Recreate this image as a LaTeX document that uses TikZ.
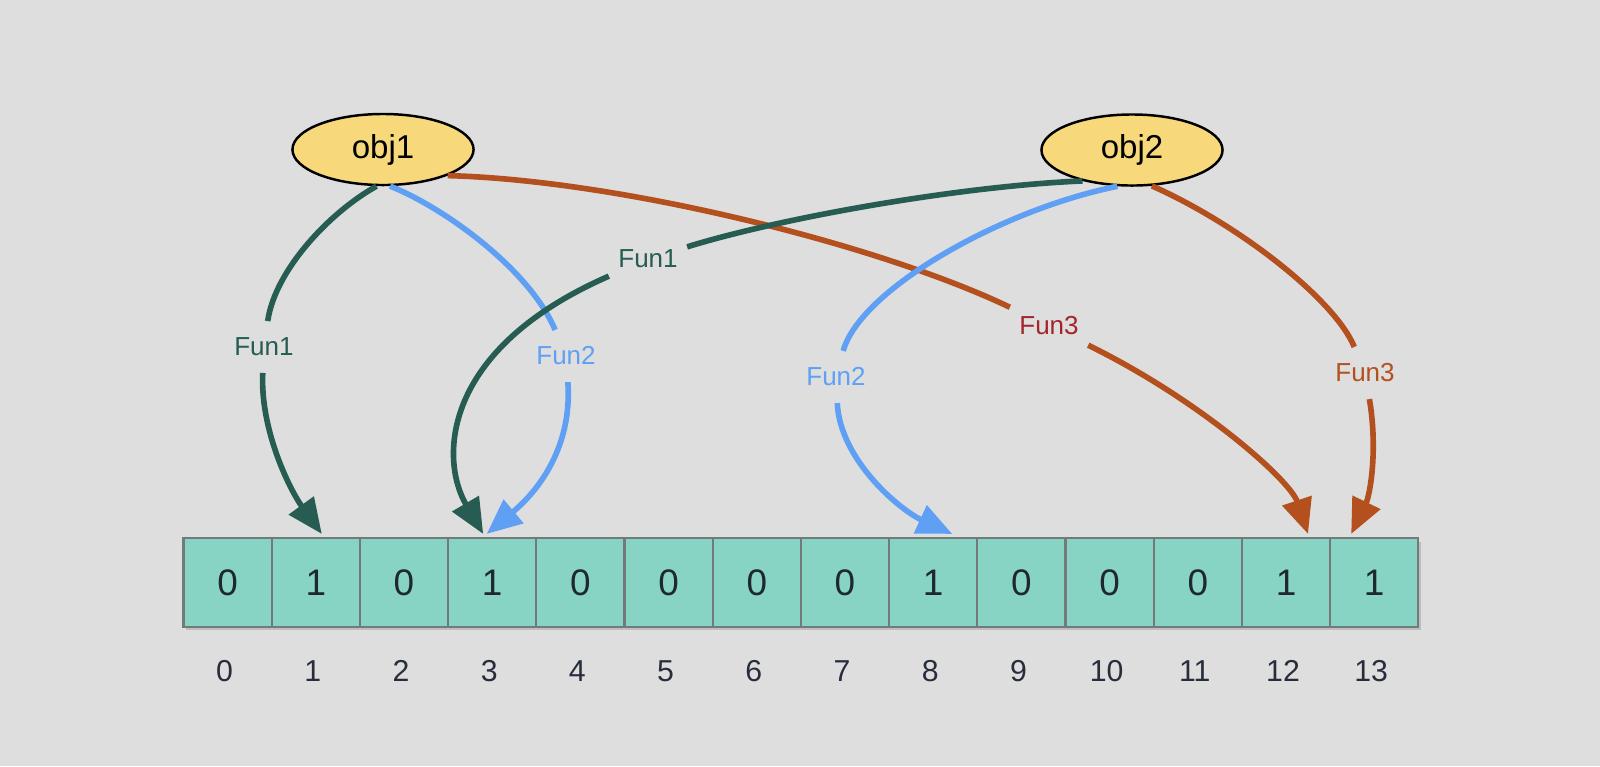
\documentclass[tikz,border=0pt]{standalone}
\usepackage{fontspec}
\setmainfont{Liberation Sans}
\usetikzlibrary{arrows.meta,shapes.geometric,calc}
\definecolor{bgc}{RGB}{222,222,222}
\definecolor{gc}{RGB}{38,92,82}
\definecolor{bc}{RGB}{95,160,245}
\definecolor{oc}{RGB}{180,80,30}
\definecolor{rc}{RGB}{165,35,45}
\definecolor{cellc}{RGB}{136,212,196}
\definecolor{cellb}{RGB}{115,122,122}
\definecolor{objc}{RGB}{247,216,122}
\definecolor{digc}{RGB}{30,40,45}
\definecolor{idxc}{RGB}{40,45,60}
\definecolor{shc}{RGB}{190,190,190}
\begin{document}
\begin{tikzpicture}[x=0.01cm,y=-0.01cm,
  seg/.style={line width=1.6pt},
  conn/.style={line width=1.6pt,-{Triangle[length=10pt,width=8.5pt]}},
  lab/.style={font=\fontsize{7.4}{9}\selectfont,inner xsep=2.5pt,inner ysep=4.6pt},
  obj/.style={ellipse,draw=black,line width=0.7pt,fill=objc,minimum width=1.81cm,minimum height=0.71cm,inner sep=0pt,font=\fontsize{9.4}{11}\selectfont},
  cell/.style={rectangle,draw=cellb,line width=0.6pt,fill=cellc,minimum width=0.882cm,minimum height=0.89cm,inner sep=0pt,font=\fontsize{10.5}{12}\selectfont,text=digc},
  idx/.style={font=\fontsize{8.6}{10}\selectfont,text=idxc}]
\fill[bgc] (0,0) rectangle (1600,766);
\useasboundingbox (0,0) rectangle (1600,766);
% shadow of the row
\fill[shc] (186,542) rectangle (1421,630);
\foreach \v [count=\i from 0] in {0,1,0,1,0,0,0,0,1,0,0,0,1,1} {
  \node[cell] (c\i) at ({183.5+88.2*(\i+0.5)},582.5) {\v};
  \node[idx] (n\i) at ({180.5+88.2*(\i+0.5)},671) {\i};
}
\node[obj] (obj1) at (383,149.5) {obj1};
\node[obj] (obj2) at (1132,150) {obj2};
% labels
\node[lab,text=gc] (l1a) at (264,347) {Fun1};
\node[lab,text=bc] (l2a) at (566,356) {Fun2};
\node[lab,text=gc] (l1b) at (648,259) {Fun1};
\node[lab,text=rc] (l3a) at (1049,326) {Fun3};
\node[lab,text=bc] (l2b) at (836,377) {Fun2};
\node[lab,text=oc] (l3b) at (1365,373) {Fun3};
% arrow tips
\coordinate (t1) at ([xshift=0.06cm,yshift=0.03cm]c1.north);
\coordinate (t3g) at ([xshift=-0.09cm,yshift=0.03cm]c3.north);
\coordinate (t3b) at ([xshift=-0.055cm,yshift=0.03cm]c3.north);
\coordinate (t8) at ([xshift=0.19cm,yshift=0.03cm]c8.north);
\coordinate (t12) at ([xshift=0.22cm,yshift=0.03cm]c12.north);
\coordinate (t13) at ([xshift=-0.23cm,yshift=0.03cm]c13.north);
% orange
\draw[seg,oc] (obj1.338) .. controls (620,180) and (880,245) .. (l3a);
\draw[conn,oc] (l3a) .. controls (1200,400) and (1290,480) .. (t12);
\draw[seg,oc] (obj2.299) .. controls (1240,225) and (1335,300) .. (l3b);
\draw[conn,oc] (l3b) .. controls (1378,450) and (1370,495) .. (t13);
% blue
\draw[seg,bc] (obj1.281) .. controls (445,208) and (530,270) .. (l2a);
\draw[conn,bc] (l2a) .. controls (572,440) and (545,485) .. (t3b);
\draw[seg,bc] (obj2.248) .. controls (1000,210) and (860,290) .. (l2b);
\draw[conn,bc] (l2b) .. controls (840,460) and (900,510) .. (t8);
% green
\draw[seg,gc] (obj1.260) .. controls (330,212) and (275,270) .. (l1a);
\draw[conn,gc] (l1a) .. controls (260,430) and (290,490) .. (t1);
\draw[seg,gc] (obj2.212) .. controls (960,186) and (780,218) .. (l1b);
\draw[conn,gc] (l1b) .. controls (440,350) and (440,460) .. (t3g);
\end{tikzpicture}
\end{document}
